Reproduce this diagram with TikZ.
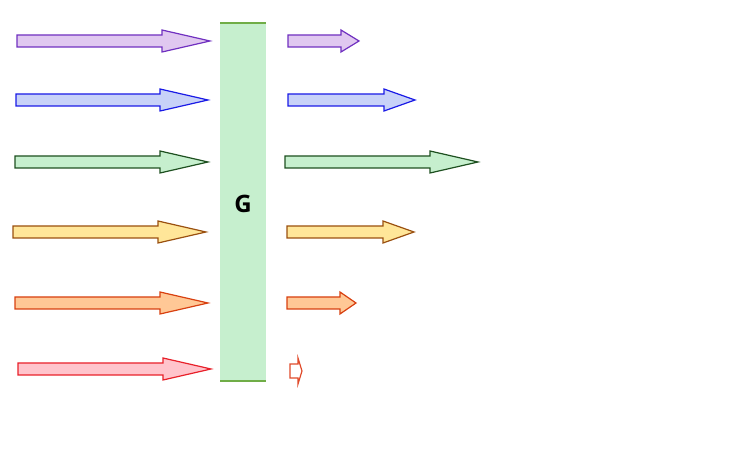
\documentclass[tikz,border=0pt]{standalone}
\usepackage{fontspec}
\setsansfont{Open Sans}
\definecolor{purpleF}{HTML}{E0C8F0} \definecolor{purpleD}{HTML}{7030C0}
\definecolor{blueF}{HTML}{C8D2F8}   \definecolor{blueD}{HTML}{1A1AE6}
\definecolor{greenF}{HTML}{C6EFCE}  \definecolor{greenD}{HTML}{1E5020}
\definecolor{yellowF}{HTML}{FFE699} \definecolor{yellowD}{HTML}{9A5010}
\definecolor{orangeF}{HTML}{FFC896} \definecolor{orangeD}{HTML}{D84010}
\definecolor{redF}{HTML}{FFC4CC}    \definecolor{redD}{HTML}{E8202A}
\definecolor{faintF}{HTML}{FFFFFF}  \definecolor{faintD}{HTML}{E04A2A}
\definecolor{gateLine}{HTML}{70AD47}
% block arrow: style, y, start, head start, tip, shaft half, head half
\newcommand{\blockarrow}[7]{%
  \draw[#1] (#3,#2-#6)--(#4,#2-#6)--(#4,#2-#7)--(#5,#2)--(#4,#2+#7)--(#4,#2+#6)--(#3,#2+#6)--cycle;}
\tikzset{
  arr/.style={fill=#1F, draw=#1D, line width=0.9pt, line join=miter},
  gate/.style={fill=greenF, draw=none},
}
\begin{document}
\begin{tikzpicture}[x=0.75pt, y=-0.75pt, font=\sffamily\bfseries]
  \useasboundingbox (0,0) rectangle (740,470);
  % the gate
  \fill[gate] (220,23) rectangle (266,381);
  \draw[gateLine, line width=1.2pt] (220,23)--(266,23) (220,381)--(266,381);
  \node (G) at (243,204) {\fontsize{18}{20}\selectfont\bfseries G};
  % incoming and outgoing arrows
  \foreach \c/\y/\a/\b/\t/\p/\q/\r in {purple/41/17/162/210/288/341/359,
      blue/100/16/160/208/288/384/415, green/162/15/160/208/285/430/478,
      yellow/232/13/158/206/287/383/414, orange/303/15/160/208/287/340/356}{
    \blockarrow{arr=\c}{\y}{\a}{\b}{\t}{6}{11}
    \blockarrow{arr=\c}{\y}{\p}{\q}{\r}{6}{11}
  }
  \blockarrow{arr=red}{369}{18}{163}{211}{6}{11}
  \blockarrow{arr=faint}{371}{290}{298}{302}{7}{13}
\end{tikzpicture}
\end{document}
